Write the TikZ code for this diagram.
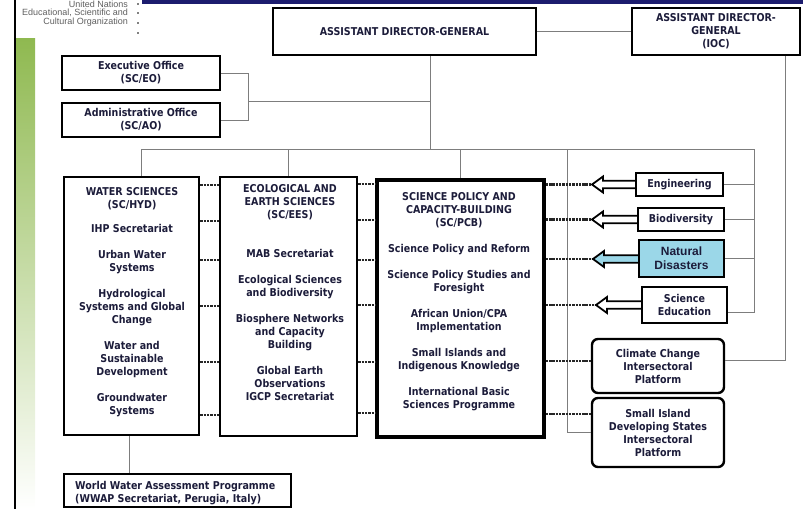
\documentclass[tikz,border=0pt]{standalone}
\usepackage{fontspec}
\setmainfont{Liberation Sans}
\newfontfamily\bx[FakeStretch=0.88]{DejaVu Sans}
\newfontfamily\lsans{Liberation Sans}
\usetikzlibrary{calc}
\definecolor{txt}{RGB}{28,28,58}
\definecolor{lgray}{RGB}{125,125,125}
\definecolor{navy}{RGB}{28,28,110}
\definecolor{grn}{RGB}{143,185,80}
\definecolor{lblue}{RGB}{155,215,232}
\definecolor{ungray}{RGB}{95,95,95}
\newcommand{\hollowarrow}[4]{%
  \draw[harrow,fill=#4] (#1.west |- 0,#2-3.8) -- (#3+11,#2-3.8) -- (#3+11,#2-8) -- (#3,#2)
     -- (#3+11,#2+8) -- (#3+11,#2+3.8) -- (#1.west |- 0,#2+3.8);}
\begin{document}
\begin{tikzpicture}[x=1pt,y=-1pt,
  box/.style={draw=black, line width=2.6pt, fill=white, inner sep=0pt, align=center, text=txt,
              font=\bx\bfseries\fontsize{10.8}{13}\selectfont},
  btxt/.style={inner sep=0pt, align=center, text=txt, font=\bx\bfseries\fontsize{10.8}{13}\selectfont},
  gline/.style={draw=lgray, line width=1pt},
  dotc/.style={draw=black!85, line width=2.7pt, dash pattern=on 2.4pt off 0.9pt},
  harrow/.style={draw=black, line width=1.8pt, line join=miter},
  unesco/.style={inner sep=0pt, text=ungray, font=\lsans\fontsize{9}{10}\selectfont, anchor=east}]
\useasboundingbox (0,0) rectangle (803,509);

% decorations
\fill[navy] (142,0) rectangle (803,3.5);
\shade[top color=grn, middle color=grn!60, bottom color=white] (15,38) rectangle (35,509);
\draw[black, line width=1.5pt] (15,0) -- (15,509);
\node[unesco] (un1) at (128,4.2) {United Nations};
\node[unesco] (un2) at (128,13) {Educational, Scientific and};
\node[unesco] (un3) at (128,22) {Cultural Organization};
\foreach \yy in {4,13,23,33} \fill[black] (138,\yy) circle (0.9pt);

% boxes
\node[box, line width=2.8pt, minimum width=263pt, minimum height=47pt] (adg) at (404.5,31.5) {ASSISTANT DIRECTOR-GENERAL};
\node[box, line width=2.4pt, minimum width=168pt, minimum height=47pt] (ioc) at (716,31.5) {ASSISTANT DIRECTOR-\\GENERAL\\(IOC)};
\node[box, minimum width=158pt, minimum height=34pt] (eo) at (141,73) {Executive Office\\(SC/EO)};
\node[box, minimum width=158pt, minimum height=34pt] (ao) at (141,120) {Administrative Office\\(SC/AO)};

\node[box, line width=2.8pt, minimum width=135pt, minimum height=258pt] (ws) at (131.5,306) {};
\node[btxt, anchor=north] (wsT) at (132,187) {WATER SCIENCES\\(SC/HYD)\\[11pt]IHP Secretariat\\[13pt]Urban Water\\Systems\\[13pt]Hydrological\\Systems and Global\\Change\\[13pt]Water and\\Sustainable\\Development\\[13pt]Groundwater\\Systems};

\node[box, line width=2.8pt, minimum width=137pt, minimum height=259pt] (ees) at (288.5,306.5) {};
\node[btxt, anchor=north] (eesT) at (290,184) {ECOLOGICAL AND\\EARTH SCIENCES\\(SC/EES)\\[26pt]MAB Secretariat\\[13pt]Ecological Sciences\\and Biodiversity\\[13pt]Biosphere Networks\\and Capacity\\Building\\[13pt]Global Earth\\Observations\\IGCP Secretariat};

\node[box, line width=3.6pt, minimum width=167pt, minimum height=257pt] (pcb) at (460.5,308.5) {};
\node[btxt, anchor=north] (pcbT) at (459,192) {SCIENCE POLICY AND\\CAPACITY-BUILDING\\(SC/PCB)\\[13pt]Science Policy and Reform\\[13pt]Science Policy Studies and\\Foresight\\[13pt]African Union/CPA\\Implementation\\[13pt]Small Islands and\\Indigenous Knowledge\\[13pt]International Basic\\Sciences Programme};

\node[box, minimum width=227pt, minimum height=33pt] (wwap) at (177.5,490.5) {};
\node[btxt, anchor=west, align=left] (wwapT) at (75,493.5) {World Water Assessment Programme\\(WWAP Secretariat, Perugia, Italy)};

\node[box, line width=2.4pt, minimum width=87pt, minimum height=23pt] (eng) at (679.5,184.5) {Engineering};
\node[box, line width=2.4pt, minimum width=86pt, minimum height=23pt] (bio) at (681,219.5) {Biodiversity};
\node[box, line width=2.4pt, minimum width=85pt, minimum height=37pt, fill=lblue,
      font=\lsans\bfseries\fontsize{12}{14}\selectfont] (nd) at (681.5,258.5) {Natural\\Disasters};
\node[box, line width=2.4pt, minimum width=85pt, minimum height=36pt] (se) at (684.5,305) {Science\\Education};
\node[box, line width=2.4pt, rounded corners=6pt, minimum width=132pt, minimum height=54pt] (cc) at (658,366) {Climate Change\\Intersectoral\\Platform};
\node[box, line width=2.4pt, rounded corners=6pt, minimum width=132pt, minimum height=69pt] (sids) at (658,432.5) {Small Island\\Developing States\\Intersectoral\\Platform};

% grey connectors
\coordinate (busL) at (141,149);
\coordinate (busR) at (754,149);
\coordinate (bm) at (430,149);
\coordinate (brk) at (248,101);
\coordinate (vs) at (567,149);
\coordinate (seR) at (754,312);
\coordinate (ccR) at (785,360);
\draw[gline] (adg.east) -- (ioc.west);
\draw[gline] (bm |- adg.south) -- (bm);
\draw[gline] (eo.east) -- (brk |- eo.east) -- (brk |- ao.east) -- (ao.east);
\draw[gline] (brk) -- (bm |- brk);
\draw[gline] (busL) -- (busR) -- (seR) -- (seR -| se.east);
\draw[gline] (busL) -- (busL |- ws.north);
\draw[gline] (ees.north |- busL) -- (ees.north);
\draw[gline] (pcb.north |- busL) -- (pcb.north);
\draw[gline] (vs) -- (vs |- sids.west) -- (sids.west);
\draw[gline] (eng.east) -- (eng.east -| busR);
\draw[gline] (bio.east) -- (bio.east -| busR);
\draw[gline] (nd.east) -- (nd.east -| busR);
\draw[gline] (cc.east |- ccR) -- (ccR) -- (ccR |- ioc.south);
\draw[gline] (ws.south -| 129,0) -- (wwap.north -| 129,0);

% dotted connectors
\foreach \yy in {185,221,260,306,362,415} \draw[dotc] (ws.east |- 0,\yy) -- (ees.west |- 0,\yy);
\foreach \yy in {184,220,260,305,362,413} \draw[dotc] (ees.east |- 0,\yy) -- (pcb.west |- 0,\yy);
\coordinate (engTip) at (592,184.5);
\coordinate (bioTip) at (592,219.5);
\coordinate (ndTip) at (593,259);
\coordinate (seTip) at (596,305);
\draw[dotc] (pcb.east |- engTip) -- (engTip);
\draw[dotc] (pcb.east |- bioTip) -- (bioTip);
\draw[dotc] (pcb.east |- ndTip) -- (ndTip);
\draw[dotc] (pcb.east |- seTip) -- (seTip);
\draw[dotc] (pcb.east |- 0,361) -- (cc.west |- 0,361);
\draw[dotc] (pcb.east |- 0,414) -- (sids.west |- 0,414);

% hollow arrows
\hollowarrow{eng}{184.5}{592}{white}
\hollowarrow{bio}{219.5}{592}{white}
\hollowarrow{nd}{259}{593}{lblue}
\hollowarrow{se}{305}{596}{white}
\end{tikzpicture}
\end{document}
